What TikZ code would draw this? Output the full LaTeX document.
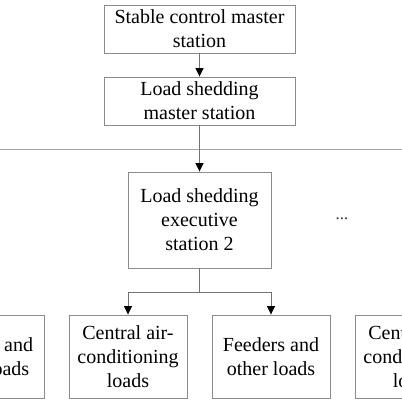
\documentclass[tikz,border=0pt]{standalone}
\usepackage{fontspec}
\setmainfont{Liberation Serif}
\usetikzlibrary{arrows.meta}
\begin{document}
\begin{tikzpicture}[x=1pt,y=1pt,
  box/.style={draw=black!45, line width=0.9pt, fill=white, inner sep=0pt, align=center,
    font=\fontsize{20}{24}\selectfont},
  conn/.style={draw=black!55, line width=0.9pt},
  arr/.style={conn, -{Triangle[width=8pt,length=8.5pt,black]}}]
\useasboundingbox (0,0) rectangle (402,-402);
\clip (0,0) rectangle (402,-402);
\fill[white] (0,0) rectangle (402,-402);
\node[box, minimum width=191pt, minimum height=48pt] (scm) at (199.5,-29) {Stable control master\\station};
\node[box, minimum width=191pt, minimum height=48pt] (lsm) at (199.5,-101) {Load shedding\\master station};
\coordinate (hl) at (0,-149);
\coordinate (hr) at (402,-149);
\draw[draw=black!35, line width=0.9pt] (hl) -- (hr);
\node[box, minimum width=143pt, minimum height=96pt] (lse) at (199.5,-220) {Load shedding\\executive\\station 2};
\node[font=\fontsize{17}{20}\selectfont, inner sep=0pt, text=black!80] (dots) at (342,-219) {...};
\node[box, minimum width=118pt, minimum height=83pt] (fl) at (-15,-356.5) {Feeders and\\other loads};
\node[box, minimum width=118pt, minimum height=83pt] (ca) at (128,-356.5) {Central air-\\conditioning\\loads};
\node[box, minimum width=118pt, minimum height=83pt] (fo) at (271,-356.5) {Feeders and\\other loads};
\node[box, minimum width=118pt, minimum height=83pt] (cr) at (414,-356.5) {Central air-\\conditioning\\loads};
\draw[arr] (scm.south) -- (lsm.north);
\draw[arr] (lsm.south) -- (lse.north);
\coordinate (br) at (199.5,-292);
\draw[conn] (lse.south) -- (br);
\draw[arr] (br) -| (ca.north);
\draw[arr] (br) -| (fo.north);
\end{tikzpicture}
\end{document}
